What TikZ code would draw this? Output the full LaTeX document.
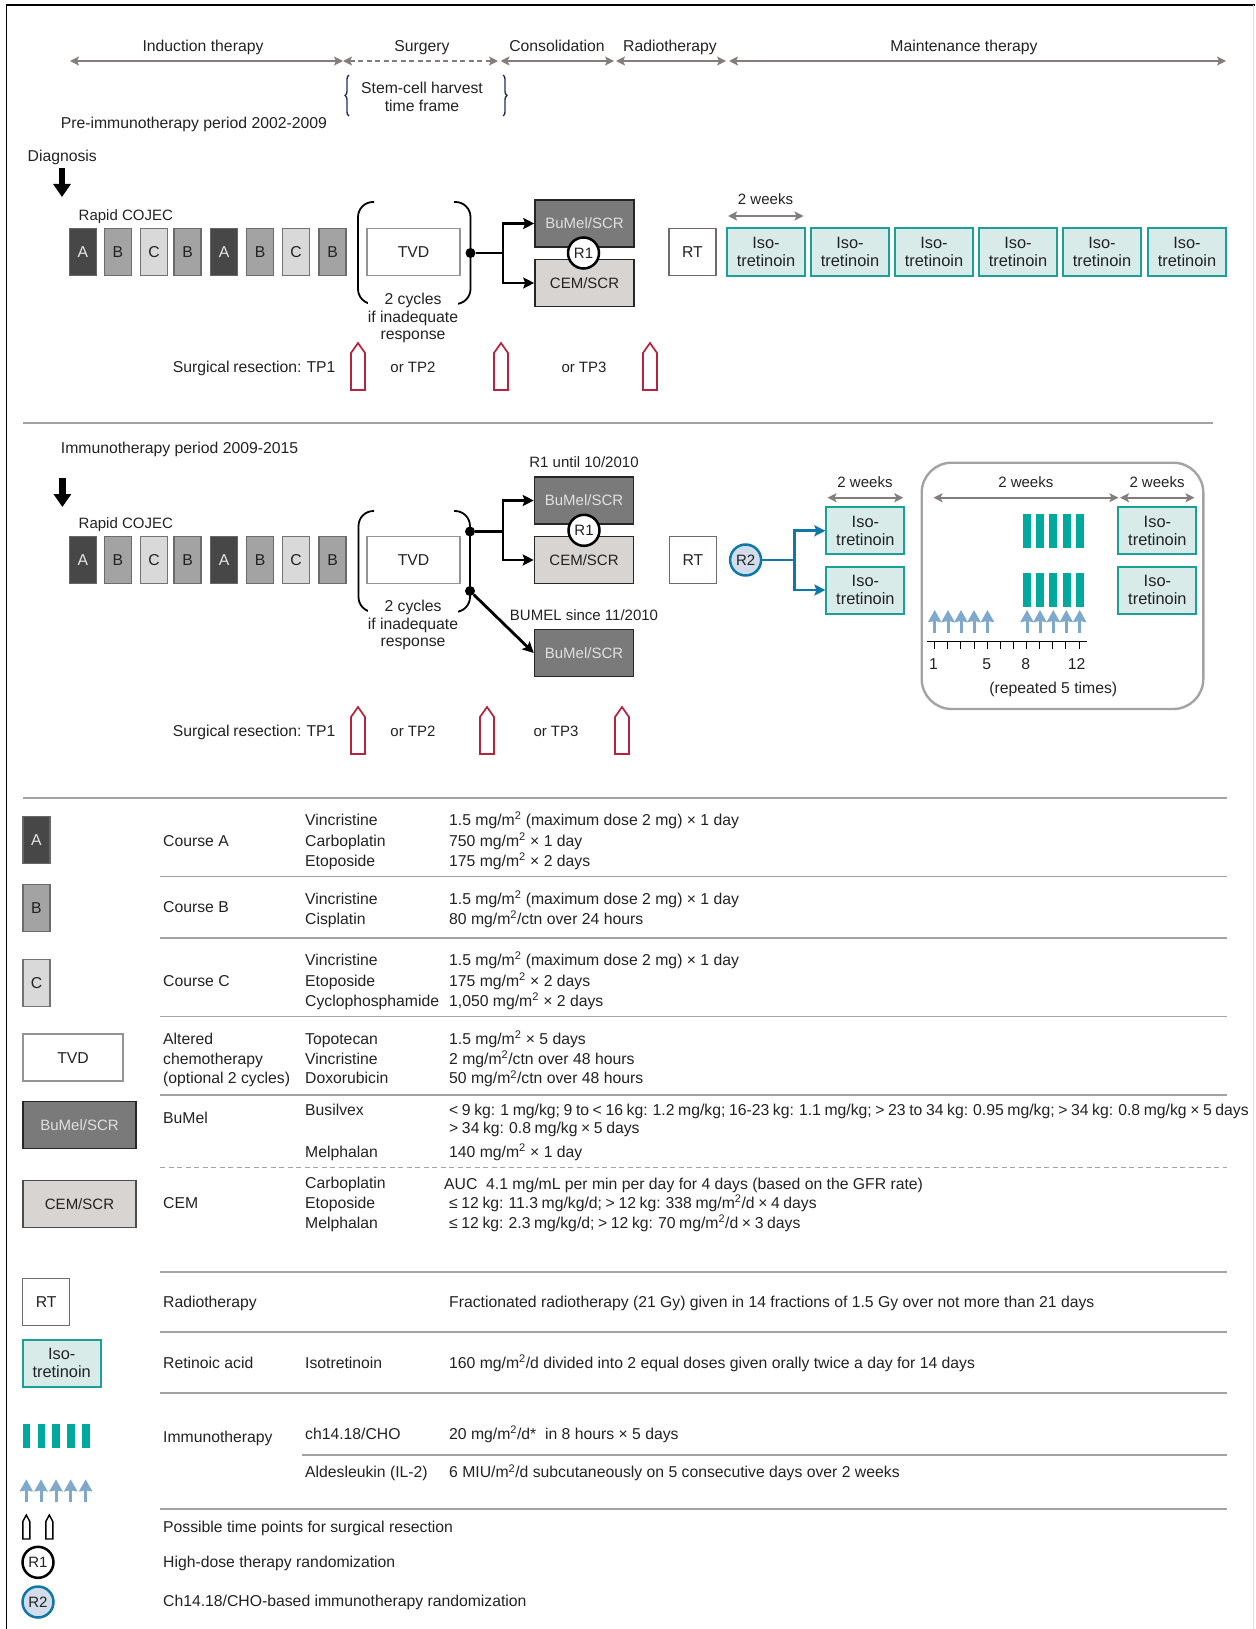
\documentclass[tikz,border=0pt]{standalone}
\usepackage{fontspec}
\setmainfont{Liberation Sans}
\usetikzlibrary{arrows.meta,decorations.pathreplacing}
\definecolor{inkgrey}{HTML}{222222}
\definecolor{spangrey}{HTML}{857D7D}
\definecolor{rulegrey}{HTML}{A3A3A3}
\definecolor{cemfill}{HTML}{D8D4D2}
\definecolor{bumelfill}{HTML}{7A7A7A}
\definecolor{isoline}{HTML}{1AA098}
\definecolor{isofill}{HTML}{D8EBE9}
\definecolor{barteal}{HTML}{00A99D}
\definecolor{upblue}{HTML}{7FA9CC}
\definecolor{randblue}{HTML}{0F78A8}
\definecolor{randfill}{HTML}{D3DCEA}
\definecolor{tpred}{HTML}{B5233F}
\definecolor{bracenavy}{HTML}{1F2F5F}
\newcommand{\mtwo}{m\textsuperscript{2}}

\begin{document}
\begin{tikzpicture}[
  x=1pt, y=-1pt,
  font=\fontsize{15.75}{17.8}\selectfont,
  text=inkgrey,
  txt/.style={inner sep=0pt, text height=12pt, text depth=2pt},
  lbl/.style={txt, anchor=west},
  lines/.style={inner sep=0pt, align=center},
  small/.style={font=\fontsize{15}{17.8}\selectfont},
  tight/.style={execute at begin node={\spaceskip=3.6pt\relax}},
  crs/.style={rectangle, draw, line width=1.2pt, inner sep=0pt, minimum width=27pt, minimum height=47pt},
  crsA/.style={crs, draw=black!60, fill=black!72, text=white!90!black},
  crsB/.style={crs, draw=black!58, fill=black!36},
  crsC/.style={crs, draw=black!55, fill=black!15},
  tvd/.style={rectangle, draw=black!42, line width=1.5pt, fill=white, minimum width=93pt, minimum height=47pt},
  rt/.style={rectangle, draw=spangrey!85!black, line width=1.4pt, fill=white, minimum width=47pt, minimum height=47pt},
  bumel/.style={rectangle, small, draw=black!85, line width=1.6pt, fill=bumelfill, text=white!88!black, minimum width=99pt, minimum height=47pt},
  cem/.style={rectangle, small, draw=black!85, line width=1.6pt, fill=cemfill, minimum width=99pt, minimum height=47pt},
  iso/.style={rectangle, font=\fontsize{16.4}{17.8}\selectfont, draw=isoline, line width=2pt, fill=isofill, align=center, inner sep=0pt, minimum width=78pt, minimum height=47pt},
  rone/.style={circle, small, draw=black, line width=2.5pt, fill=white, inner sep=0pt, minimum size=31pt},
  rtwo/.style={circle, small, draw=randblue, line width=2.5pt, fill=randfill, inner sep=0pt, minimum size=31pt},
  dot/.style={circle, fill=black, inner sep=0pt, minimum size=10pt},
  span/.style={draw=spangrey, line width=1.6pt, <->, >={Stealth[length=9pt, width=9pt, inset=2pt]}},
  branch/.style={draw=black, line width=2.8pt},
  blue branch/.style={draw=randblue, line width=2.8pt},
  tipped/.style={-{Stealth[length=11pt, width=11pt, inset=2pt]}},
  rulethin/.style={draw=rulegrey, line width=1.2pt},
  rulethick/.style={draw=rulegrey, line width=1.8pt},
  curly/.style={draw=bracenavy, line width=1.4pt, decorate, decoration={brace, amplitude=4pt}},
  bracket/.style={draw=black, line width=1.8pt, rounded corners=15pt},
  bigdown/.style={draw=black, line width=6.5pt, -{Triangle[length=13pt, width=17pt]}},
  upar/.pic={\draw[draw=upblue, line width=3pt, -{Stealth[length=12pt, width=13pt, inset=1pt]}] (0,22.5) -- (0,0);},
  pencil/.pic={\draw[line width=1.7pt, pic actions] (-7,47) -- (-7,10) -- (0,0) -- (7,10) -- (7,47) -- cycle;},
  smallpencil/.pic={\draw[line width=1.4pt, pic actions] (-3.5,24) -- (-3.5,6.5) -- (0,0) -- (3.5,6.5) -- (3.5,24) -- cycle;}
]
\useasboundingbox (0,0) rectangle (1255,1629);
\draw[draw=black, line width=1.4pt] (1255,5) -- (6.4,5) -- (6.4,1629);
\draw[draw=black!12, line width=1pt] (1253,5) -- (1253,1629);

% header
\node[txt] (hInd) at (203,47) {Induction therapy};
\node[txt] (hSur) at (422,47) {Surgery};
\node[txt] (hCon) at (557,47) {Consolidation};
\node[txt] (hRad) at (670,47) {Radiotherapy};
\node[txt] (hMai) at (964,47) {Maintenance therapy};
\coordinate (s1) at (70,61);
\coordinate (s2) at (343,61);
\coordinate (s3) at (498,61);
\coordinate (s4) at (500.5,61);
\coordinate (s5) at (614,61);
\coordinate (s6) at (616,61);
\coordinate (s7) at (726,61);
\coordinate (s8) at (729,61);
\coordinate (s9) at (1226,61);
\draw[span] (s1) -- (s2);
\draw[span, dash pattern=on 5pt off 3.5pt] (s2) -- (s3);
\draw[span] (s4) -- (s5);
\draw[span] (s6) -- (s7);
\draw[span] (s8) -- (s9);
\node[lines] (stem) at (422,97) {Stem-cell harvest\\time frame};
\draw[curly] (349,116) -- (349,75);
\draw[curly] (503,75) -- (503,116);
\node[lbl] (prePeriod) at (60.6,124) {Pre-immunotherapy period 2002-2009};
\node[lbl] (diag) at (27.5,157) {Diagnosis};
\coordinate (dgA) at (62,168);
\coordinate (dgB) at (62,197);
\draw[bigdown] (dgA) -- (dgB);

% pre-immunotherapy
\node[lbl, small] (cojecA) at (78.5,216) {Rapid COJEC};
\node[crsA] (a1) at (83,252) {A};
\node[crsB] (a2) at (118,252) {B};
\node[crsC] (a3) at (154,252) {C};
\node[crsB] (a4) at (187.5,252) {B};
\node[crsA] (a5) at (224,252) {A};
\node[crsB] (a6) at (260,252) {B};
\node[crsC] (a7) at (296,252) {C};
\node[crsB] (a8) at (332.5,252) {B};
\node[tvd] (tvdA) at (413.5,252) {TVD};
\draw[bracket] (374,202) -- (358,202) -- (358,304) -- (374,304);
\draw[bracket] (454,202) -- (470.5,202) -- (470.5,304) -- (454,304);
\node[lines, fill=white, inner ysep=1pt] (cycA) at (413,318) {2 cycles\\if inadequate\\response};
\node[dot] (dotA) at (470.5,253) {};
\coordinate (jA) at (503,253);
\node[bumel] (bmA) at (584.5,223.5) {BuMel/SCR};
\node[cem] (cmA) at (584.5,283) {CEM/SCR};
\draw[branch] (dotA) -- (jA);
\draw[branch, tipped] (jA) |- (bmA.west);
\draw[branch, tipped] (jA) |- (cmA.west);
\node[rone] (rA) at (583.5,253) {R1};
\node[rt] (rtA) at (692.5,252) {RT};
\node[iso] (i1) at (766,252) {Iso-\\tretinoin};
\node[iso] (i2) at (850,252) {Iso-\\tretinoin};
\node[iso] (i3) at (934,252) {Iso-\\tretinoin};
\node[iso] (i4) at (1018,252) {Iso-\\tretinoin};
\node[iso] (i5) at (1102,252) {Iso-\\tretinoin};
\node[iso] (i6) at (1187,252) {Iso-\\tretinoin};
\node[txt, small] (wkA) at (765.5,200) {2 weeks};
\coordinate (wkA1) at (728,216);
\coordinate (wkA2) at (803.5,216);
\draw[span] (wkA1) -- (wkA2);
\node[lbl, tight] (srA) at (172.6,367) {Surgical resection: TP1};
\node[txt, small] (tp2A) at (413,367) {or TP2};
\node[txt, small] (tp3A) at (584,367) {or TP3};
\pic[draw=tpred] at (358,343) {pencil};
\pic[draw=tpred] at (501,343) {pencil};
\pic[draw=tpred] at (650,343) {pencil};
\draw[rulethick] (23,423) -- (1213,423);

% immunotherapy
\node[lbl] (immPeriod) at (60.7,448) {Immunotherapy period 2009-2015};
\coordinate (dgC) at (62.4,478);
\coordinate (dgD) at (62.4,507);
\draw[bigdown] (dgC) -- (dgD);
\node[lbl, small] (cojecB) at (78.5,523) {Rapid COJEC};
\node[crsA] (b1) at (83,560) {A};
\node[crsB] (b2) at (118,560) {B};
\node[crsC] (b3) at (154,560) {C};
\node[crsB] (b4) at (187.5,560) {B};
\node[crsA] (b5) at (224,560) {A};
\node[crsB] (b6) at (260,560) {B};
\node[crsC] (b7) at (296,560) {C};
\node[crsB] (b8) at (332.5,560) {B};
\node[tvd] (tvdB) at (413.5,560) {TVD};
\draw[bracket] (374,511) -- (358.5,511) -- (358.5,612) -- (374,612);
\draw[bracket] (454,511) -- (470,511) -- (470,612) -- (454,612);
\node[lines, fill=white, inner ysep=1pt] (cycB) at (413,625) {2 cycles\\if inadequate\\response};
\node[dot] (dotB) at (470,531.5) {};
\node[dot] (dotC) at (470,591) {};
\coordinate (jB) at (503,531.5);
\node[txt, small] (r1until) at (584,462) {R1 until 10/2010};
\node[bumel] (bmB) at (584,500.5) {BuMel/SCR};
\node[cem] (cmB) at (584,560) {CEM/SCR};
\draw[branch] (dotB) -- (jB);
\draw[branch, tipped] (jB) |- (bmB.west);
\draw[branch, tipped] (jB) |- (cmB.west);
\node[rone] (rB) at (584,530.3) {R1};
\node[txt, small] (since) at (584,615) {BUMEL since 11/2010};
\node[bumel] (bmC) at (584,653) {BuMel/SCR};
\draw[branch, tipped] (dotC) -- (bmC.west);
\node[rt] (rtB) at (693,560) {RT};
\node[rtwo] (rC) at (745.6,560) {R2};
\node[iso] (j1) at (865.4,530.8) {Iso-\\tretinoin};
\node[iso] (j2) at (865.4,590) {Iso-\\tretinoin};
\coordinate (jC) at (794.6,560);
\draw[blue branch] (rC) -- (jC);
\draw[blue branch, tipped] (jC) |- (j1.west);
\draw[blue branch, tipped] (jC) |- (j2.west);
\node[txt, small] (wkB) at (865,482) {2 weeks};
\coordinate (wkB1) at (827.5,497.7);
\coordinate (wkB2) at (903.3,497.7);
\draw[span] (wkB1) -- (wkB2);
\draw[draw=rulegrey, line width=2.4pt, rounded corners=30pt] (921.7,462.7) rectangle (1203.3,709);
\node[txt, small] (wkC) at (1025.8,482) {2 weeks};
\node[txt, small] (wkD) at (1157,482) {2 weeks};
\coordinate (wkC1) at (933.5,497.7);
\coordinate (wkC2) at (1118.4,497.7);
\coordinate (wkD1) at (1120,497.7);
\coordinate (wkD2) at (1194.5,497.7);
\draw[span] (wkC1) -- (wkC2);
\draw[span] (wkD1) -- (wkD2);
\node[iso] (j3) at (1157.4,530.8) {Iso-\\tretinoin};
\node[iso] (j4) at (1157.4,590) {Iso-\\tretinoin};
\foreach \bx in {1027,1040,1053,1066.5,1079.5} {
  \fill[barteal] (\bx-4,513.7) rectangle (\bx+4,547.7);
  \fill[barteal] (\bx-4,573) rectangle (\bx+4,606.7);
}
\foreach \ux in {934.7,948,961,974,987.5,1027,1040,1053.3,1066.3,1079.7}
  \pic at (\ux,610) {upar};
\draw[draw=black, line width=1.4pt] (927,641.7) -- (1086.6,641.7);
\foreach \tx in {934.7,947.8,960.9,974,987.2,1000.3,1013.4,1026.5,1039.7,1052.8,1065.9,1079}
  \draw[draw=black, line width=1pt] (\tx,641.7) -- (\tx,649);
\node[txt] (t1) at (933.5,664.3) {1};
\node[txt] (t5) at (986.7,664.3) {5};
\node[txt] (t8) at (1025.8,664.3) {8};
\node[txt] (t12) at (1076.7,664.3) {12};
\node[txt] (rep) at (1053.3,688) {(repeated 5 times)};
\node[lbl, tight] (srB) at (172.6,731) {Surgical resection: TP1};
\node[txt, small] (tp2B) at (413,731) {or TP2};
\node[txt, small] (tp3B) at (556,731) {or TP3};
\pic[draw=tpred] at (358,707) {pencil};
\pic[draw=tpred] at (487,707) {pencil};
\pic[draw=tpred] at (622,707) {pencil};

% legend
\draw[rulethick] (23,798) -- (1227,798);
\node[crsA] (lgA) at (36.5,840.2) {A};
\node[crsB] (lgB) at (36.5,907.8) {B};
\node[crsC] (lgC) at (36.5,983.3) {C};
\node[tvd, minimum width=100pt] (lgT) at (73,1057.7) {TVD};
\node[bumel, line width=1.2pt, minimum width=113pt] (lgBm) at (79.5,1125.3) {\raisebox{-4pt}{BuMel/SCR}};
\node[cem, line width=1.2pt, draw=black!70, minimum width=113pt] (lgCm) at (79.5,1203.7) {CEM/SCR};
\node[rt] (lgRt) at (46.2,1302.2) {RT};
\node[iso] (lgIso) at (61.7,1363.3) {Iso-\\tretinoin};
\foreach \bx in {26.5,41.5,56,71,86}
  \fill[barteal] (\bx-3.8,1424) rectangle (\bx+3.8,1448);
\foreach \ux in {26.3,41,56,70.7,85.7}
  \pic at (\ux,1479.3) {upar};
\pic[draw=black] at (26.3,1515) {smallpencil};
\pic[draw=black] at (49.3,1515) {smallpencil};
\node[rone] (lgR1) at (38,1562.3) {R1};
\node[rtwo] (lgR2) at (38,1602) {R2};

\node[lbl] (c1) at (163,841) {Course A};
\node[lbl] (v1) at (305,820) {Vincristine};
\node[lbl] (v2) at (305,841) {Carboplatin};
\node[lbl] (v3) at (305,861) {Etoposide};
\node[lbl] (d1) at (449,820) {1.5 mg/\mtwo{} (maximum dose 2 mg) × 1 day};
\node[lbl] (d2) at (449,841) {750 mg/\mtwo{} × 1 day};
\node[lbl] (d3) at (449,861) {175 mg/\mtwo{} × 2 days};
\draw[rulethin] (160,876.3) -- (1227,876.3);

\node[lbl] (c2) at (163,907) {Course B};
\node[lbl] (v4) at (305,899) {Vincristine};
\node[lbl] (v5) at (305,919) {Cisplatin};
\node[lbl] (d4) at (449,899) {1.5 mg/\mtwo{} (maximum dose 2 mg) × 1 day};
\node[lbl] (d5) at (449,919) {80 mg/\mtwo{}/ctn over 24 hours};
\draw[rulethin] (160,938) -- (1227,938);

\node[lbl] (c3) at (163,981) {Course C};
\node[lbl] (v6) at (305,960) {Vincristine};
\node[lbl] (v7) at (305,981) {Etoposide};
\node[lbl] (v8) at (305,1001) {Cyclophosphamide};
\node[lbl] (d6) at (449,960) {1.5 mg/\mtwo{} (maximum dose 2 mg) × 1 day};
\node[lbl] (d7) at (449,981) {175 mg/\mtwo{} × 2 days};
\node[lbl] (d8) at (449,1001) {1,050 mg/\mtwo{} × 2 days};
\draw[rulethin] (160,1016.3) -- (1227,1016.3);

\node[lbl] (c4a) at (163,1039) {Altered};
\node[lbl] (c4b) at (163,1059) {chemotherapy};
\node[lbl] (c4c) at (163,1078.7) {(optional 2 cycles)};
\node[lbl] (v9) at (305,1039) {Topotecan};
\node[lbl] (v10) at (305,1059) {Vincristine};
\node[lbl] (v11) at (305,1078.7) {Doxorubicin};
\node[lbl] (d9) at (449,1039) {1.5 mg/\mtwo{} × 5 days};
\node[lbl] (d10) at (449,1059) {2 mg/\mtwo{}/ctn over 48 hours};
\node[lbl] (d11) at (449,1078.7) {50 mg/\mtwo{}/ctn over 48 hours};
\draw[rulethin] (160,1095) -- (1227,1095);

\node[lbl] (c5) at (163,1118) {BuMel};
\node[lbl] (v12) at (305,1110) {Busilvex};
\node[lbl] (v13) at (305,1152) {Melphalan};
\node[lbl, tight] (d12) at (449,1110) {< 9 kg: 1 mg/kg; 9 to < 16 kg: 1.2 mg/kg; 16-23 kg: 1.1 mg/kg; > 23 to 34 kg: 0.95 mg/kg; > 34 kg: 0.8 mg/kg × 5 days};
\node[lbl, tight] (d13) at (449,1128) {> 34 kg: 0.8 mg/kg × 5 days};
\node[lbl] (d14) at (449,1152) {140 mg/\mtwo{} × 1 day};
\draw[rulethin, dash pattern=on 5pt off 3.5pt] (160,1167.7) -- (1227,1167.7);

\node[lbl] (c6) at (163,1203) {CEM};
\node[lbl] (v14) at (305,1183) {Carboplatin};
\node[lbl] (v15) at (305,1203) {Etoposide};
\node[lbl] (v16) at (305,1223) {Melphalan};
\node[lbl] (d15) at (444,1184) {AUC\ \ 4.1 mg/mL per min per day for 4 days (based on the GFR rate)};
\node[lbl, tight] (d16) at (449,1203) {≤ 12 kg: 11.3 mg/kg/d; > 12 kg: 338 mg/\mtwo{}/d × 4 days};
\node[lbl, tight] (d17) at (449,1223) {≤ 12 kg: 2.3 mg/kg/d; > 12 kg: 70 mg/\mtwo{}/d × 3 days};
\draw[rulethick] (160,1272) -- (1227,1272);

\node[lbl] (c7) at (163,1302) {Radiotherapy};
\node[lbl] (d18) at (449,1302) {Fractionated radiotherapy (21 Gy) given in 14 fractions of 1.5 Gy over not more than 21 days};
\draw[rulethick] (160,1332.3) -- (1227,1332.3);

\node[lbl] (c8) at (163,1363) {Retinoic acid};
\node[lbl] (v17) at (305,1363) {Isotretinoin};
\node[lbl] (d19) at (449,1363) {160 mg/\mtwo{}/d divided into 2 equal doses given orally twice a day for 14 days};
\draw[rulethick] (160,1393.3) -- (1227,1393.3);

\node[lbl] (c9) at (163,1437) {Immunotherapy};
\node[lbl] (v18) at (305,1434) {ch14.18/CHO};
\node[lbl] (d20) at (449,1434) {20 mg/\mtwo{}/d*\ \ in 8 hours × 5 days};
\draw[rulethick] (301.7,1454.7) -- (1227,1454.7);
\node[lbl] (v19) at (305,1472.7) {Aldesleukin (IL-2)};
\node[lbl] (d21) at (449,1472.7) {6 MIU/\mtwo{}/d subcutaneously on 5 consecutive days over 2 weeks};
\draw[rulethick] (160,1508.7) -- (1227,1508.7);

\node[lbl] (n1) at (163,1527) {Possible time points for surgical resection};
\node[lbl] (n2) at (163,1562) {High-dose therapy randomization};
\node[lbl] (n3) at (163,1601.7) {Ch14.18/CHO-based immunotherapy randomization};
\end{tikzpicture}
\end{document}
